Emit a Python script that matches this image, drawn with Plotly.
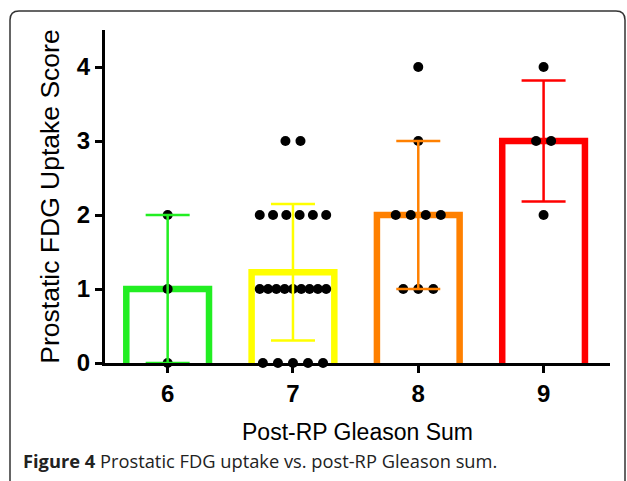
import plotly.graph_objects as go

# ---- data ----
categories = [6, 7, 8, 9]
bar_colors = ["#22ee22", "#ffff00", "#ff8000", "#ff0000"]
# individual scores per Gleason group: (value, count)
group_values = {
    6: [(0, 1), (1, 1), (2, 1)],
    7: [(0, 5), (1, 9), (2, 6), (3, 2)],
    8: [(1, 3), (2, 4), (3, 1), (4, 1)],
    9: [(2, 1), (3, 2), (4, 1)],
}
y_ticks = [0, 1, 2, 3, 4]

W, H = 627, 481
ML, MR, MT, MB = 105, 17, 30, 118
PW, PH = W - ML - MR, H - MT - MB

def px_x(px):
    return (px - ML) / PW

def px_y(py):
    return (H - MB - py) / PH

fig = go.Figure()

bar_half = 0.33
stats = []
for c in categories:
    vals = []
    for v, n in group_values[c]:
        vals += [v] * n
    m = sum(vals) / len(vals)
    sd = (sum((x - m) ** 2 for x in vals) / (len(vals) - 1)) ** 0.5
    stats.append((m, sd))

# bars as open outlines
for c, col, (m, sd) in zip(categories, bar_colors, stats):
    fig.add_trace(go.Scatter(
        x=[c - bar_half, c - bar_half, c + bar_half, c + bar_half],
        y=[0, m, m, 0], mode="lines",
        line=dict(color=col, width=6.5), hoverinfo="skip", showlegend=False))

# points (beeswarm style)
px_list, py_list = [], []
for c in categories:
    for v, n in group_values[c]:
        sp = min(0.12, 0.53 / (n - 1)) if n > 1 else 0
        for i in range(n):
            px_list.append(c + (i - (n - 1) / 2) * sp)
            py_list.append(v)
fig.add_trace(go.Scatter(x=px_list, y=py_list, mode="markers",
                         marker=dict(color="black", size=10),
                         showlegend=False, cliponaxis=False))

# error bars
for c, col, (m, sd) in zip(categories, bar_colors, stats):
    fig.add_trace(go.Scatter(
        x=[c], y=[m], mode="markers", marker=dict(size=0.1, color=col, opacity=0),
        error_y=dict(type="data", array=[sd], visible=True, color=col,
                     thickness=2.5, width=22),
        showlegend=False, cliponaxis=False))

# frame
rx, ry = 9 / PW, 9 / PH
x0, x1 = px_x(10), px_x(625)
yt, yb = px_y(11), px_y(495)
path = (f"M {x0},{yb} L {x0},{yt - ry} Q {x0},{yt} {x0 + rx},{yt} "
        f"L {x1 - rx},{yt} Q {x1},{yt} {x1},{yt - ry} L {x1},{yb}")
fig.add_shape(type="path", path=path, xref="paper", yref="paper",
              line=dict(color="#333333", width=1.5), layer="below")

fig.add_annotation(x=px_x(21), y=px_y(460), xref="paper", yref="paper",
                   xanchor="left", yanchor="middle", showarrow=False,
                   text="<b>Figure 4</b> Prostatic FDG uptake vs. post-RP Gleason sum.",
                   font=dict(family="Open Sans", size=18.3, color="#222222"))

AX_FONT = "Liberation Sans"
fig.update_layout(
    width=W, height=H, margin=dict(l=ML, r=MR, t=MT, b=MB),
    plot_bgcolor="white", paper_bgcolor="white",
    font=dict(family=AX_FONT, color="black"),
    xaxis=dict(range=[5.5, 9.53], tickvals=categories, ticktext=[str(c) for c in categories],
               showgrid=False, zeroline=False, showline=True, linecolor="black",
               linewidth=3, ticks="outside", ticklen=7, tickwidth=2.5, tickcolor="black",
               tickfont=dict(size=24, family=AX_FONT, weight="bold"),
               title=dict(text="Post-RP Gleason Sum", font=dict(size=23, family=AX_FONT),
                          standoff=19)),
    yaxis=dict(range=[0, 4.5], tickvals=y_ticks, showgrid=False, zeroline=False,
               showline=True, linecolor="black", linewidth=3, ticks="outside",
               ticklen=7, tickwidth=2.5, tickcolor="black",
               tickfont=dict(size=24, family=AX_FONT, weight="bold"),
               title=dict(text="Prostatic FDG Uptake Score", font=dict(size=26.5, family=AX_FONT),
                          standoff=10)),
)

fig.write_html("out.html", config={"displayModeBar": False},
               post_script="document.body.style.margin='0px';document.body.style.overflow='hidden';")
